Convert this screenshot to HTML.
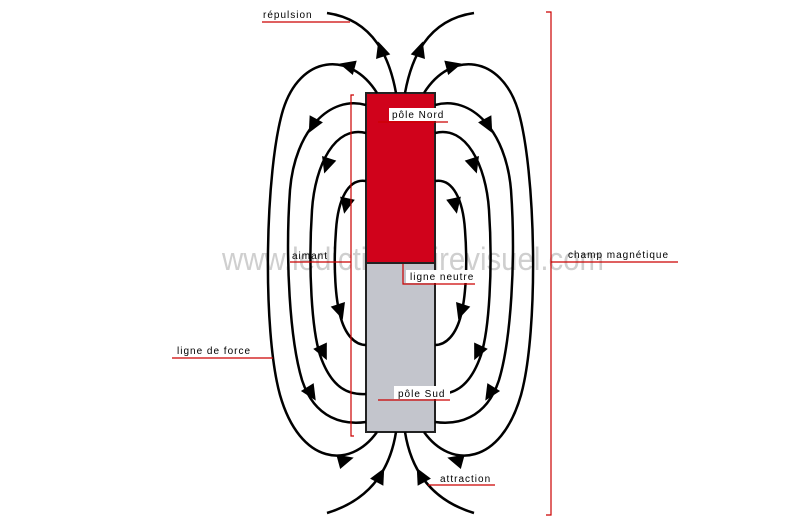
<!DOCTYPE html>
<html><head><meta charset="utf-8"><style>
html,body{margin:0;padding:0;background:#fff;}
svg{display:block}
text{font-family:"Liberation Sans",sans-serif;font-size:10px;fill:#000;letter-spacing:1px}
</style></head><body>
<svg width="800" height="527" viewBox="0 0 800 527" xmlns="http://www.w3.org/2000/svg">
<defs>
<path id="ah" d="M9,0 L-7,-7.5 L-7,7.5 Z" fill="#000"/>
<g id="half">
  <g fill="none" stroke="#000" stroke-width="2.5">
    <path d="M396,93 C390,60 375,20 327,13"/>
    <path d="M377,93 C350,50 300,55 283,110 C265,170 262,330 280,395 C300,465 350,470 377,432"/>
    <path d="M366,105 C330,95 295,130 290,190 C285,260 290,340 302,380 C315,420 345,425 366,422"/>
    <path d="M366,133 C335,125 315,165 312,210 C308,270 312,330 320,355 C332,390 350,395 366,394"/>
    <path d="M366,181 C348,178 338,200 336,230 C333,270 336,300 340,315 C345,335 355,345 366,345"/>
    <path d="M396,432 C390,470 370,500 327,513"/>
  </g>
  <use href="#ah" transform="translate(381,50) rotate(-108)"/>
  <use href="#ah" transform="translate(348,66) rotate(195)"/>
  <use href="#ah" transform="translate(313,125) rotate(118)"/>
  <use href="#ah" transform="translate(327,165) rotate(108)"/>
  <use href="#ah" transform="translate(346,205) rotate(102)"/>
  <use href="#ah" transform="translate(340,311) rotate(72)"/>
  <use href="#ah" transform="translate(323,352) rotate(65)"/>
  <use href="#ah" transform="translate(311,393) rotate(58)"/>
  <use href="#ah" transform="translate(345,460) rotate(-15)"/>
  <use href="#ah" transform="translate(380,476) rotate(-62)"/>
</g>
</defs>
<text x="222" y="270" textLength="382" lengthAdjust="spacingAndGlyphs" style="font-size:32px;fill:#cfcfcf;letter-spacing:0">www.ledictionnairevisuel.com</text>
<rect x="366" y="93" width="69" height="170" fill="#d0021b"/>
<rect x="366" y="263" width="69" height="169" fill="#c3c5cc"/>
<line x1="366" y1="263" x2="435" y2="263" stroke="#222" stroke-width="2"/>
<rect x="366" y="93" width="69" height="339" fill="none" stroke="#222" stroke-width="2"/>
<use href="#half"/>
<use href="#half" transform="translate(801,0) scale(-1,1)"/>
<g stroke="#c00" stroke-width="1.2" fill="none">
  <path d="M262,22 H350"/>
  <path d="M354,95 H351 V436 H354"/>
  <path d="M290,262 H351"/>
  <path d="M403,264 V284 H475"/>
  <path d="M378,122 H448"/>
  <path d="M378,400 H450"/>
  <path d="M172,358 H273"/>
  <path d="M428,485 H495"/>
  <path d="M546,12 H551 V515 H546"/>
  <path d="M551,262 H678"/>
</g>
<rect x="389" y="108" width="60" height="13" fill="#fff"/>
<rect x="394" y="386" width="56" height="13" fill="#fff"/>
<rect x="406" y="270" width="70" height="13" fill="#fff"/>
<text x="263" y="18">répulsion</text>
<text x="392" y="118">pôle Nord</text>
<text x="292" y="259">aimant</text>
<text x="410" y="280">ligne neutre</text>
<text x="177" y="354">ligne de force</text>
<text x="398" y="397">pôle Sud</text>
<text x="440" y="482">attraction</text>
<text x="568" y="258">champ magnétique</text>
</svg>
</body></html>
